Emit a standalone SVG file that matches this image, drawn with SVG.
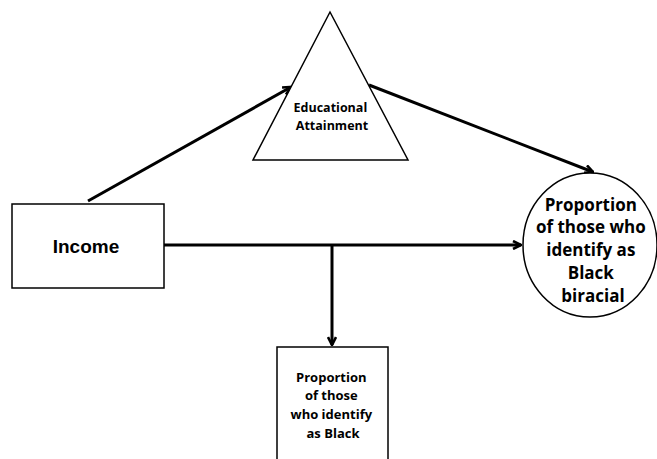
<svg xmlns="http://www.w3.org/2000/svg" width="657" height="459" viewBox="0 0 657 459">
  <style>
    .shape { fill: #ffffff; stroke: #000000; stroke-width: 1.5; }
    .conn { fill: none; stroke: #000000; stroke-width: 3; stroke-linecap: butt; }
    .lbl { font-family: "Open Sans", "Noto Sans", "Liberation Sans", sans-serif; font-weight: bold; fill: #000000; text-anchor: middle; }
    .arial { font-family: "Liberation Sans", Arial, sans-serif; }
  </style>
  <defs>
    <marker id="arrow" viewBox="0 0 10 10" refX="9" refY="5" markerWidth="10" markerHeight="10" markerUnits="userSpaceOnUse" orient="auto">
      <path d="M1,1 L9,5 L1,9" fill="none" stroke="#000000" stroke-width="2.6" stroke-linejoin="miter"/>
    </marker>
  </defs>
  <rect width="657" height="459" fill="#ffffff"/>

  <g id="connectors">
    <line class="conn" x1="88" y1="201" x2="291" y2="87" marker-end="url(#arrow)"/>
    <line class="conn" x1="369" y1="85" x2="593" y2="172" marker-end="url(#arrow)"/>
    <line class="conn" x1="164" y1="245" x2="521" y2="245" marker-end="url(#arrow)"/>
    <line class="conn" x1="332" y1="245" x2="332" y2="345" marker-end="url(#arrow)"/>
  </g>

  <g id="income">
    <rect class="shape" x="12" y="204" width="152" height="84"/>
    <text class="lbl arial" x="86" y="253" font-size="19">Income</text>
  </g>

  <g id="education">
    <polygon class="shape" points="330,12 408,160 253,160"/>
    <text class="lbl" font-size="12.5">
      <tspan x="332" y="112">Educational</tspan>
      <tspan x="332" y="130">Attainment</tspan>
    </text>
  </g>

  <g id="biracial">
    <ellipse class="shape" cx="590" cy="245" rx="67" ry="72"/>
    <text class="lbl" font-size="17">
      <tspan x="593" y="211">Proportion</tspan>
      <tspan x="593" y="233">of those who</tspan>
      <tspan x="593" y="256">identify as</tspan>
      <tspan x="593" y="279">Black</tspan>
      <tspan x="593" y="302">biracial</tspan>
    </text>
  </g>

  <g id="black">
    <rect class="shape" x="277" y="347" width="111" height="120"/>
    <text class="lbl" font-size="13">
      <tspan x="333" y="382">Proportion</tspan>
      <tspan x="333" y="400">of those</tspan>
      <tspan x="333" y="419">who identify</tspan>
      <tspan x="333" y="438">as Black</tspan>
    </text>
  </g>
</svg>
